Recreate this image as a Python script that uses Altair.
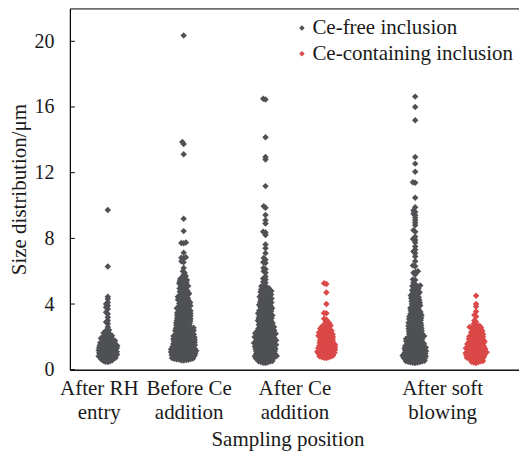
import math
import json
import altair as alt
import pandas as pd

# ---------------- data ----------------
categories = ["After RH entry", "Before Ce addition", "After Ce addition", "After soft blowing"]
series = ["Ce-free inclusion", "Ce-containing inclusion"]
y_ticks = [0, 4, 8, 12, 16, 20]

# dense part of each swarm: number of inclusions per 0.25 um size bin, from a start size
bin_width = 0.25

rh_free_start = 0.45
rh_free_counts = [9, 13, 14, 14, 12, 10, 7, 4]
rh_free_sparse = [2.6, 2.8, 2.9, 3.0, 3.2, 3.4, 3.5, 3.7, 3.8, 3.9, 4.0, 4.1, 4.3, 4.45, 6.28, 9.72]

before_free_start = 0.55
before_free_counts = [16, 19, 19, 17, 16, 15, 14, 13, 12, 12, 11, 11, 10, 9, 9, 8, 7, 6, 7, 7, 4]
before_free_sparse = [5.9, 6.0, 6.2, 6.55, 6.6, 6.8, 6.82, 6.85, 7.13, 7.7, 7.72, 7.75,
                      8.44, 9.19, 13.12, 13.75, 13.87, 20.35]

afterce_free_start = 0.4
afterce_free_counts = [12, 15, 15, 16, 16, 15, 14, 13, 12, 12, 11, 11, 10, 10, 10, 9, 9, 8, 6]
afterce_free_sparse = [5.3, 5.35, 5.5, 5.55, 5.67, 5.9, 6.0, 6.12, 6.2, 6.5, 6.55, 6.7, 6.8,
                       7.1, 7.4, 7.63, 8.2, 8.36, 8.4, 8.9, 9.1, 9.42, 9.86, 9.96, 11.18,
                       12.8, 12.96, 14.15, 16.45, 16.5]

afterce_ce_start = 0.7
afterce_ce_counts = [11, 13, 13, 12, 11, 10, 9, 7, 5]
afterce_ce_sparse = [3.05, 3.1, 3.44, 3.46, 4.0, 4.7, 5.22, 5.26]

soft_free_start = 0.4
soft_free_counts = [15, 17, 17, 16, 14, 13, 12, 11, 11, 10, 10, 9, 8, 8, 8, 7, 7, 6, 5]
soft_free_sparse = [5.1, 5.2, 5.3, 5.47, 5.5, 5.8, 5.9, 5.95, 6.0, 6.3, 6.34, 6.6, 6.9, 7.1,
                    7.2, 7.3, 7.5, 7.74, 7.9, 7.96, 8.1, 8.4, 8.5, 8.8, 8.95, 9.1, 9.25, 9.4,
                    9.5, 9.6, 9.7, 9.9, 10.47, 11.38, 11.42, 12.05, 12.55, 12.95, 15.19,
                    16.0, 16.63]

soft_ce_start = 0.4
soft_ce_counts = [10, 14, 15, 14, 13, 12, 11, 9, 6]
soft_ce_sparse = [2.55, 2.6, 2.67, 2.75, 2.8, 2.9, 3.0, 3.24, 3.34, 3.54, 3.85, 4.0, 4.51]

groups = [
    (categories[0], series[0], rh_free_start, rh_free_counts, rh_free_sparse),
    (categories[1], series[0], before_free_start, before_free_counts, before_free_sparse),
    (categories[2], series[0], afterce_free_start, afterce_free_counts, afterce_free_sparse),
    (categories[2], series[1], afterce_ce_start, afterce_ce_counts, afterce_ce_sparse),
    (categories[3], series[0], soft_free_start, soft_free_counts, soft_free_sparse),
    (categories[3], series[1], soft_ce_start, soft_ce_counts, soft_ce_sparse),
]

# ---------------- layout ----------------
W, H = 450, 362
X_DOMAIN = [0, 9]
Y_DOMAIN = [0, 22]
PX_X = W / (X_DOMAIN[1] - X_DOMAIN[0])
PX_Y = H / (Y_DOMAIN[1] - Y_DOMAIN[0])
slot_center = [0.76, 2.28, 3.92, 5.14, 6.92, 8.14]
label_pos = [0.58, 2.38, 4.5, 7.46]
D = 2.4  # swarm collision distance in px

FONT = "Liberation Serif, DejaVu Serif, serif"
GRAY = "#4f5154"
RED = "#da4848"
TXT = "#1a1a1a"


def expand(start, counts):
    vals = []
    for i, n in enumerate(counts):
        lo = start + i * bin_width
        for k in range(n):
            vals.append(lo + (k + 0.5) * bin_width / n)
    return vals


def swarm(vals, d):
    ys = sorted(vals)
    placed = []
    res = []
    for v in ys:
        y = v * PX_Y
        intervals = []
        for (py, px) in reversed(placed):
            dy = y - py
            if dy >= d:
                break
            dx = math.sqrt(d * d - dy * dy)
            intervals.append((px - dx, px + dx))
        cands = [0.0] + [a for a, b in intervals] + [b for a, b in intervals]
        cands.sort(key=abs)
        x = 0.0
        for c in cands:
            if all(not (a + 1e-9 < c < b - 1e-9) for a, b in intervals):
                x = c
                break
        placed.append((y, x))
        res.append((v, x))
    return res


rows = []
for gi, (cat, ser, start, counts, sparse) in enumerate(groups):
    vals = expand(start, counts) + list(sparse)
    for v, off in swarm(vals, D):
        rows.append({"category": cat, "series": ser, "size": v,
                     "xpos": slot_center[gi] + off / PX_X})
df = pd.DataFrame(rows)

# multi-line category labels
lines = [c.rsplit(" ", 1) for c in categories]
expr = json.dumps(lines[3])
for i in (2, 1, 0):
    thr = (label_pos[i] + label_pos[i + 1]) / 2
    expr = f"datum.value < {thr} ? {json.dumps(lines[i])} : ({expr})"

x_enc = alt.X(
    "xpos:Q",
    scale=alt.Scale(domain=X_DOMAIN, nice=False, zero=False),
    title="Sampling position",
    axis=alt.Axis(
        values=label_pos, labelExpr=expr, ticks=False, tickSize=0, grid=False,
        domainColor="black", labelFont=FONT, labelFontSize=21, labelColor=TXT,
        labelBaseline="alphabetic", labelPadding=25, labelLineHeight=24,
        labelOverlap=False, labelFlush=False, labelBound=False, labelLimit=300,
        titleFont=FONT, titleFontSize=21, titleFontWeight="normal", titleColor=TXT,
        titleX=218, titleY=76, titleBaseline="alphabetic", titleAnchor="start", titleAlign="center",
    ),
)
y_axis = alt.Axis(
    values=y_ticks, ticks=False, tickSize=0, grid=False, domainColor="black",
    labelFont=FONT, labelFontSize=20, labelColor=TXT, labelPadding=16,
    titleFont=FONT, titleFontSize=21, titleFontWeight="normal", titleColor=TXT,
    titleX=-44, titleY=181, titleAngle=-90, titleBaseline="alphabetic", titleAlign="center",
)

points = alt.Chart(df).mark_point(
    shape="diamond", filled=True, size=42, opacity=1, strokeWidth=0
).encode(
    x=x_enc,
    y=alt.Y("size:Q", scale=alt.Scale(domain=Y_DOMAIN, nice=False), axis=y_axis,
            title="Size distribution/μm"),
    color=alt.Color(
        "series:N",
        scale=alt.Scale(domain=series, range=[GRAY, RED]),
        legend=alt.Legend(
            title=None, orient="none", legendX=222, legendY=9, padding=0,
            symbolType="diamond", symbolSize=30, symbolStrokeWidth=0,
            labelFont=FONT, labelFontSize=21, labelColor=TXT, labelOffset=0,
            labelLimit=400, rowPadding=4,
        ),
    ),
)

tick_df = pd.DataFrame({"t": y_ticks})
inner_ticks = alt.Chart(tick_df).mark_rule(color="black", strokeWidth=1).encode(
    x=alt.value(0), x2=alt.value(5),
    y=alt.Y("t:Q", scale=alt.Scale(domain=Y_DOMAIN, nice=False), title="Size distribution/μm"),
)

chart = alt.layer(points, inner_ticks).properties(
    width=W, height=H,
    autosize=alt.AutoSizeParams(type="none"),
    padding={"left": 62, "top": 0, "right": 0, "bottom": 82},
    background="white",
).configure(font=FONT).configure_view(stroke="black", strokeWidth=1)

chart.save("out.html", embed_options={"renderer": "svg", "actions": False})
